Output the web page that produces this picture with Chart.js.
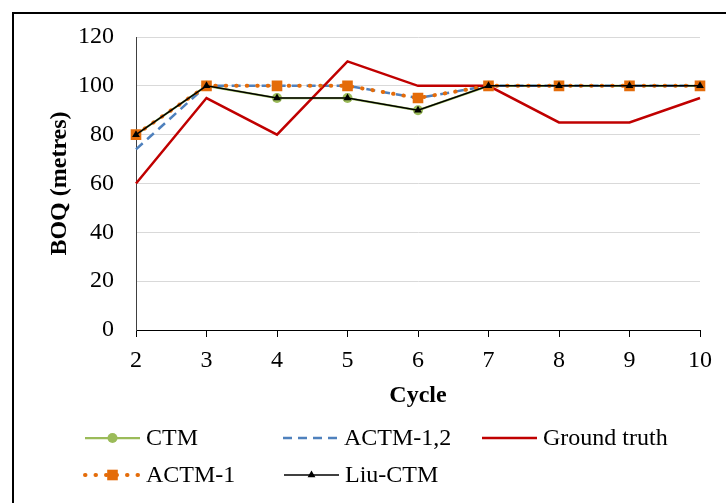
<!DOCTYPE html>
<html>
<head>
<meta charset="utf-8">
<script src="https://cdn.jsdelivr.net/npm/chart.js@4/dist/chart.umd.min.js"></script>
<style>
    html, body { margin: 0; padding: 0; background: #fff; overflow: hidden; }
    canvas { display: block; }
</style>
</head>
<body>
<canvas id="boqChart" width="726" height="503"></canvas>
<script>
// ── Datos: BOQ por ciclo ─────────────────────────────────────────
const cycles = ['2', '3', '4', '5', '6', '7', '8', '9', '10'];
const ctm = [80, 100, 95, 95, 90, 100, 100, 100, 100];
const actm12 = [74, 100, 100, 100, 95, 100, 100, 100, 100];
const groundTruth = [60, 95, 80, 110, 100, 100, 85, 85, 95];
const actm1 = [80, 100, 100, 100, 95, 100, 100, 100, 100];
const liuCtm = [80, 100, 95, 95, 90, 100, 100, 100, 100];
const yTicks = [0, 20, 40, 60, 80, 100, 120];

const serif = "'Liberation Serif', 'Times New Roman', serif";

// Leyenda en dos filas, columnas fijas (x de la línea, y de la fila)
const legendSlots = [
    { x: 85, y: 438 },   // CTM
    { x: 283, y: 438 },  // ACTM-1,2
    { x: 482, y: 438 },  // Ground truth
    { x: 85, y: 475 },   // ACTM-1
    { x: 284, y: 475 }   // Liu-CTM
];

function drawMarker(ctx, style, x, y, r, color) {
    ctx.save();
    ctx.fillStyle = color;
    ctx.beginPath();
    if (style === 'circle') {
        ctx.arc(x, y, r, 0, Math.PI * 2);
    } else if (style === 'rect') {
        const s = r * Math.SQRT1_2;
        ctx.rect(x - s, y - s, 2 * s, 2 * s);
    } else if (style === 'triangle') {
        ctx.moveTo(x, y - r);
        ctx.lineTo(x + r * 0.87, y + r * 0.5);
        ctx.lineTo(x - r * 0.87, y + r * 0.5);
        ctx.closePath();
    }
    ctx.fill();
    ctx.restore();
}

const frameAndLegend = {
    id: 'frameAndLegend',
    beforeDraw(chart) {
        const ctx = chart.ctx;
        ctx.save();
        ctx.fillStyle = '#fff';
        ctx.fillRect(0, 0, chart.width, chart.height);
        ctx.strokeStyle = '#000';
        ctx.lineWidth = 2;
        ctx.strokeRect(13, 13, chart.width + 20, chart.height + 20);
        ctx.restore();
    },
    afterDraw(chart) {
        const ctx = chart.ctx;
        const lineLen = 55;
        chart.data.datasets.forEach((ds, i) => {
            const slot = legendSlots[i];
            if (!slot) return;
            ctx.save();
            ctx.strokeStyle = ds.borderColor;
            ctx.lineWidth = ds.borderWidth;
            ctx.lineCap = ds.borderCapStyle || 'butt';
            ctx.setLineDash(ds.borderDash || []);
            ctx.beginPath();
            ctx.moveTo(slot.x, slot.y);
            ctx.lineTo(slot.x + lineLen, slot.y);
            ctx.stroke();
            ctx.restore();
            if (ds.pointRadius > 0) {
                drawMarker(ctx, ds.pointStyle, slot.x + lineLen / 2, slot.y,
                    ds.legendMarker || ds.pointRadius, ds.pointBackgroundColor);
            }
            ctx.save();
            ctx.fillStyle = '#000';
            ctx.font = '24px ' + serif;
            ctx.textBaseline = 'middle';
            ctx.textAlign = 'left';
            ctx.fillText(ds.label, slot.x + lineLen + 6, slot.y + 1);
            ctx.restore();
        });
    }
};

new Chart(document.getElementById('boqChart').getContext('2d'), {
    type: 'line',
    data: {
        labels: cycles,
        datasets: [
            {
                label: 'CTM',
                data: ctm,
                borderColor: '#9bbb59',
                borderWidth: 2.25,
                pointStyle: 'circle',
                pointRadius: 5,
                pointBackgroundColor: '#9bbb59',
                pointBorderWidth: 0,
                legendMarker: 5,
                tension: 0,
                order: 5
            },
            {
                label: 'ACTM-1,2',
                data: actm12,
                borderColor: '#4f81bd',
                borderWidth: 2.5,
                borderDash: [9, 6],
                pointRadius: 0,
                tension: 0,
                order: 4
            },
            {
                label: 'Ground truth',
                data: groundTruth,
                borderColor: '#c00000',
                borderWidth: 2.5,
                pointRadius: 0,
                tension: 0,
                order: 3
            },
            {
                label: 'ACTM-1',
                data: actm1,
                borderColor: '#e46c0a',
                borderWidth: 4,
                borderDash: [0.5, 10],
                borderCapStyle: 'round',
                pointStyle: 'rect',
                pointRadius: 7.5,
                pointBackgroundColor: '#e46c0a',
                pointBorderWidth: 0,
                legendMarker: 7.5,
                tension: 0,
                order: 2
            },
            {
                label: 'Liu-CTM',
                data: liuCtm,
                borderColor: '#000',
                borderWidth: 1.5,
                pointStyle: 'triangle',
                pointRadius: 4.5,
                pointBackgroundColor: '#000',
                pointBorderWidth: 0,
                legendMarker: 4.5,
                tension: 0,
                order: 1
            }
        ]
    },
    options: {
        responsive: false,
        animation: false,
        layout: { padding: { left: 0, top: 37, right: 26, bottom: 93 } },
        plugins: {
            legend: { display: false },
            tooltip: { enabled: false }
        },
        scales: {
            x: {
                type: 'category',
                offset: false,
                grid: {
                    display: true,
                    drawOnChartArea: false,
                    drawTicks: true,
                    tickLength: 7,
                    tickColor: '#000'
                },
                border: { color: '#000', width: 1 },
                ticks: {
                    color: '#000',
                    font: { family: serif, size: 24 },
                    padding: 9,
                    maxRotation: 0,
                    autoSkip: false
                },
                title: {
                    display: true,
                    text: 'Cycle',
                    color: '#000',
                    font: { family: serif, size: 24, weight: 'bold' },
                    padding: { top: 0, bottom: 0 }
                },
                afterFit(scale) { scale.height = 80; }
            },
            y: {
                min: 0,
                max: 120,
                afterBuildTicks(scale) {
                    scale.ticks = yTicks.map(v => ({ value: v }));
                },
                grid: {
                    color: '#d9d9d9',
                    lineWidth: 1,
                    drawTicks: false
                },
                border: { color: '#404040', width: 1 },
                ticks: {
                    color: '#000',
                    font: { family: serif, size: 24 },
                    padding: 22
                },
                title: {
                    display: true,
                    text: 'BOQ (metres)',
                    color: '#000',
                    font: { family: serif, size: 24, weight: 'bold' },
                    padding: { top: 45, bottom: 0 }
                },
                afterFit(scale) { scale.width = 136; }
            }
        }
    },
    plugins: [frameAndLegend]
});
</script>
</body>
</html>
